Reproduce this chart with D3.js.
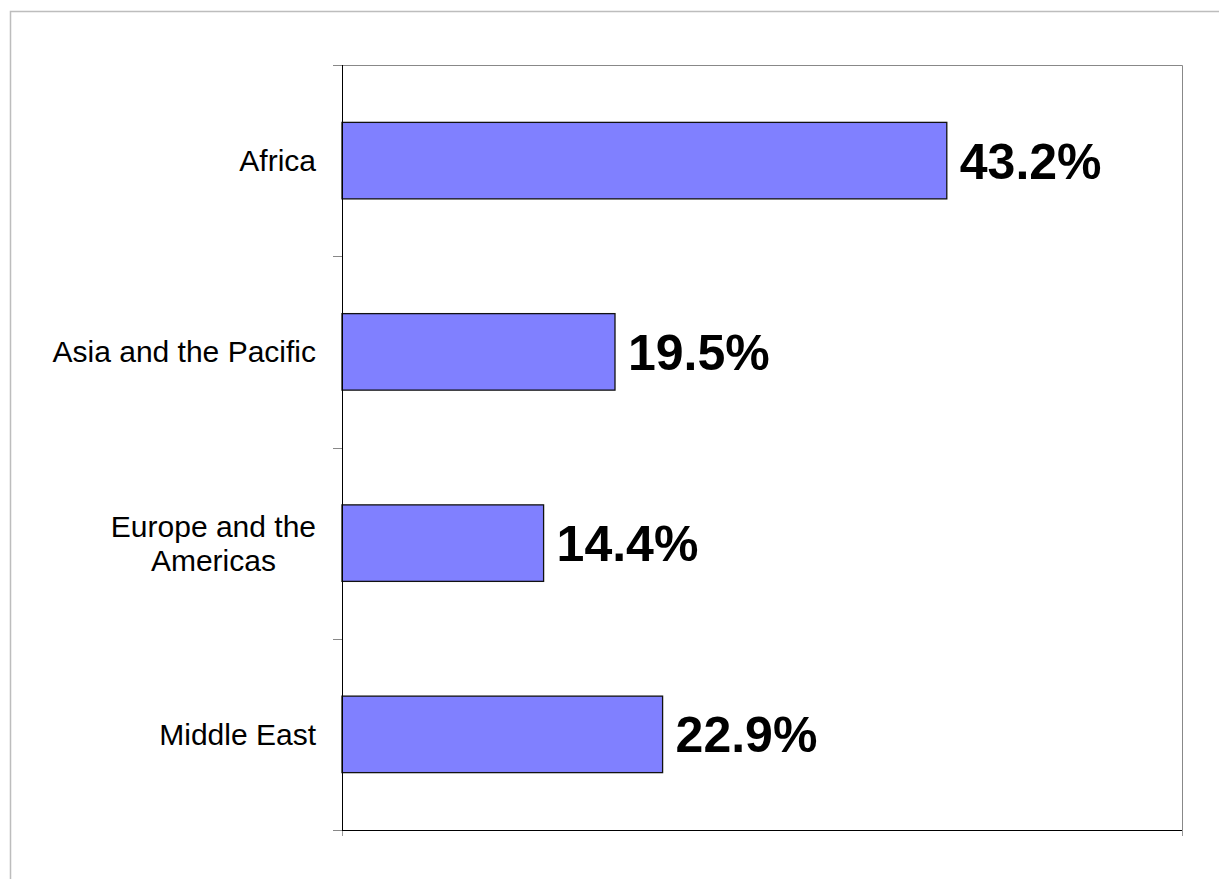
<!DOCTYPE html>
<html>
<head>
<meta charset="utf-8">
<script src="https://cdn.jsdelivr.net/npm/d3@7"></script>
<style>
  body { margin: 0; background: #fff; }
  svg { display: block; font-family: "Liberation Sans", Arial, sans-serif; }
</style>
</head>
<body>
<div id="chart"></div>
<script>
// Chart data
const categories = ['Africa', 'Asia and the Pacific', 'Europe and the Americas', 'Middle East'];
const labelLines = [['Africa'], ['Asia and the Pacific'], ['Europe and the', 'Americas'], ['Middle East']];
const values = [43.2, 19.5, 14.4, 22.9];
const valueLabels = ['43.2%', '19.5%', '14.4%', '22.9%'];
const xDomain = [0, 60];

const W = 1219, H = 879;
const plot = { left: 342, right: 1182, top: 65, bottom: 830 };

const svg = d3.select('#chart')
  .append('svg')
  .attr('width', W)
  .attr('height', H);

// outer frame (runs off the right and bottom of the picture)
svg.append('rect')
  .attr('x', 10.5).attr('y', 11.5)
  .attr('width', 1240).attr('height', 900)
  .attr('fill', '#fff')
  .attr('stroke', '#bdbdbd')
  .attr('stroke-width', 1.5);

// Scales
const xScale = d3.scaleLinear()
  .domain(xDomain)
  .range([plot.left, plot.right]);

const yScale = d3.scaleBand()
  .domain(categories)
  .range([plot.top, plot.bottom])
  .paddingInner(0.6)
  .paddingOuter(0.3);

// plot area border: grey top and right
svg.append('path')
  .attr('d', 'M' + plot.left + ',' + (plot.top + 0.5) + 'H' + (plot.right + 0.5) + 'V' + plot.bottom)
  .attr('fill', 'none')
  .attr('stroke', '#888')
  .attr('stroke-width', 1);

// category boundary ticks on the left
const bounds = d3.range(categories.length + 1).map(i => yScale.range()[0] + i * yScale.step());
svg.selectAll('.ytick')
  .data(bounds)
  .enter()
  .append('line')
  .attr('class', 'ytick')
  .attr('x1', plot.left - 9).attr('x2', plot.left)
  .attr('y1', d => Math.round(d) + 0.5).attr('y2', d => Math.round(d) + 0.5)
  .attr('stroke', '#888');

// end ticks on the value axis
svg.selectAll('.xtick')
  .data(xDomain)
  .enter()
  .append('line')
  .attr('class', 'xtick')
  .attr('x1', d => Math.round(xScale(d)) + 0.5).attr('x2', d => Math.round(xScale(d)) + 0.5)
  .attr('y1', plot.bottom).attr('y2', plot.bottom + 6)
  .attr('stroke', '#999');

// Bars
svg.selectAll('.bar')
  .data(values)
  .enter()
  .append('rect')
  .attr('class', 'bar')
  .attr('x', xScale(0))
  .attr('y', (d, i) => yScale(categories[i]))
  .attr('width', d => xScale(d) - xScale(0))
  .attr('height', yScale.bandwidth())
  .attr('fill', '#8080ff')
  .attr('stroke', '#111')
  .attr('stroke-width', 1.3);

// axis lines (black)
svg.append('line')
  .attr('x1', plot.left + 0.5).attr('x2', plot.left + 0.5)
  .attr('y1', plot.top).attr('y2', plot.bottom + 1)
  .attr('stroke', '#000');
svg.append('line')
  .attr('x1', plot.left).attr('x2', plot.right)
  .attr('y1', plot.bottom + 0.5).attr('y2', plot.bottom + 0.5)
  .attr('stroke', '#000');

// Value labels
svg.selectAll('.vlabel')
  .data(values)
  .enter()
  .append('text')
  .attr('class', 'vlabel')
  .attr('x', d => xScale(d) + 13)
  .attr('y', (d, i) => yScale(categories[i]) + yScale.bandwidth() / 2)
  .attr('dy', '0.36em')
  .attr('font-size', 50)
  .attr('font-weight', 'bold')
  .attr('fill', '#000')
  .text((d, i) => valueLabels[i]);

// Category labels, multi-line ones centred on each other
const labelRight = plot.left - 26;
const lineH = 34;
labelLines.forEach(function (lines, i) {
  const cy = yScale(categories[i]) + yScale.bandwidth() / 2;
  const t = svg.append('text')
    .attr('font-size', 30)
    .attr('fill', '#000');
  lines.forEach(function (s, j) {
    t.append('tspan')
      .attr('y', cy + (j - (lines.length - 1) / 2) * lineH)
      .attr('dy', '0.35em')
      .text(s);
  });
  const maxW = d3.max(t.selectAll('tspan').nodes(), n => n.getComputedTextLength());
  t.attr('text-anchor', 'middle');
  t.selectAll('tspan').attr('x', labelRight - maxW / 2);
});
</script>
</body>
</html>
